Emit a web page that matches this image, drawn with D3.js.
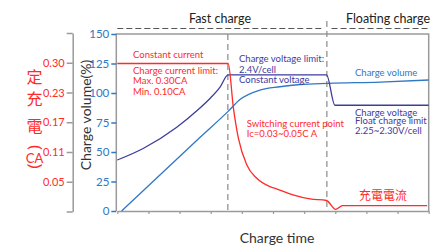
<!DOCTYPE html>
<html>
<head>
<meta charset="utf-8">
<script src="https://cdn.jsdelivr.net/npm/d3@7"></script>
<style>
  body { margin: 0; background: #fff; }
  svg { display: block; font-family: Lato, "Noto Sans", "Noto Sans CJK TC", sans-serif; }
</style>
</head>
<body>
<svg id="chart" width="439" height="249"></svg>
<script>
// time axis runs 0..10 (one unit per tick), volume axis 0..150 (%)
var volumeTicks = [0, 25, 50, 75, 100, 125, 150];
var currentTicks = ["", "0.05", "0.11", "0.17", "0.23", "0.30", ""];
var phaseBreaks = [3.55, 6.73];

// charge current (drawn in volume-axis units)
var currentT = [0, 3.56, 3.73, 3.89, 4.16, 4.48, 4.90, 5.13, 5.64, 6.19, 6.72, 7.01, 7.23, 9.95];
var currentV = [125, 125, 87, 61.5, 39, 27.7, 20.6, 18.6, 13.6, 10.2, 8.9, 1.4, 4.5, 4.5];

// charge voltage
var voltageT = [0, 0.83, 1.91, 2.6, 3.0, 3.3, 3.56, 6.72, 6.99, 10];
var voltageV = [43.2, 53, 71, 86, 96, 105, 115.3, 115.3, 89.6, 89.6];

// charge volume
var volumeT = [0.14, 2.66, 3.55, 3.94, 4.58, 5.22, 5.87, 6.77, 8.44, 10];
var volumeV = [0, 62.5, 84.2, 94.5, 102.5, 105.3, 107.2, 108.2, 109.3, 111];

var RED = "#ff2a2a", BLUE = "#2f78c4", NAVY = "#3d3d9e", GRAY = "#9a9a9a";

var svg = d3.select("#chart");
var x = d3.scaleLinear().domain([0, 10]).range([117.3, 428.7]);
var y = d3.scaleLinear().domain([0, 150]).range([211, 34]);
var yc = d3.scaleLinear().domain([0, 6]).range([211.5, 33]);

function zip(ts, vs) {
  return ts.map(function (t, i) { return [t, vs[i]]; });
}

// plot frame
svg.append("path")
  .attr("d", "M" + (x(0) - 1) + "," + y(0) + "V" + y(150) + "H" + x(10) + "V" + y(0))
  .attr("fill", "none").attr("stroke", GRAY).attr("stroke-width", 1.5);

// bottom axis
var gx = svg.append("g")
  .attr("transform", "translate(0," + y(0) + ")")
  .call(d3.axisBottom(x).ticks(10).tickSizeInner(3).tickSizeOuter(0).tickFormat(""));
gx.select(".domain").attr("stroke", GRAY).attr("stroke-width", 1.5);
gx.selectAll(".tick line").attr("stroke", GRAY).attr("stroke-width", 1.2);

// volume axis
var gy = svg.append("g")
  .attr("transform", "translate(" + (x(0) - 1) + ",0)")
  .call(d3.axisLeft(y).tickValues(volumeTicks).tickSizeInner(5).tickSizeOuter(0).tickPadding(2));
gy.select(".domain").remove();
gy.selectAll(".tick line").attr("stroke", BLUE).attr("stroke-width", 1.5);
gy.selectAll(".tick text").attr("fill", BLUE).attr("font-size", 11.5).attr("font-family", "Lato");

// current axis (left)
var gc = svg.append("g")
  .attr("transform", "translate(72.7,0)")
  .call(d3.axisLeft(yc).ticks(6).tickSizeInner(6).tickSizeOuter(0).tickPadding(2)
    .tickFormat(function (d) { return currentTicks[d]; }));
gc.select(".domain").attr("stroke", GRAY).attr("stroke-width", 1.5);
gc.selectAll(".tick line").attr("stroke", GRAY).attr("stroke-width", 1.5);
gc.selectAll(".tick text").attr("fill", RED).attr("font-size", 11).attr("font-family", "Lato");

// phase separators
svg.selectAll(".sep")
  .data(phaseBreaks)
  .enter().append("line")
  .attr("x1", function (d) { return x(d); })
  .attr("x2", function (d) { return x(d); })
  .attr("y1", function (d, i) { return i == 1 ? 21 : y(150); })
  .attr("y2", y(0))
  .attr("stroke", "#8a8a8a").attr("stroke-width", 1.2).attr("stroke-dasharray", "6,4");

// header dashes
svg.append("line").attr("x1", x(0)).attr("x2", x(6.6)).attr("y1", 28.5).attr("y2", 28.5)
  .attr("stroke", "#555").attr("stroke-width", 1.2).attr("stroke-dasharray", "6,3");
svg.append("line").attr("x1", x(6.88)).attr("x2", x(10)).attr("y1", 28.5).attr("y2", 28.5)
  .attr("stroke", "#555").attr("stroke-width", 1.2).attr("stroke-dasharray", "6,3");

svg.append("text").attr("x", 220).attr("y", 22.5).attr("text-anchor", "middle")
  .attr("font-size", 12.5).attr("fill", "#222").text("Fast charge");
svg.append("text").attr("x", 388).attr("y", 22.5).attr("text-anchor", "middle")
  .attr("font-size", 12.5).attr("fill", "#222").text("Floating charge");

// series
var line = d3.line()
  .x(function (d) { return x(d[0]); })
  .y(function (d) { return y(d[1]); })
  .curve(d3.curveMonotoneX);

svg.append("path").datum(zip(volumeT, volumeV))
  .attr("d", line).attr("fill", "none").attr("stroke", BLUE).attr("stroke-width", 1.3);
svg.append("path").datum(zip(voltageT, voltageV))
  .attr("d", line).attr("fill", "none").attr("stroke", NAVY).attr("stroke-width", 1.3);
svg.append("path").datum(zip(currentT, currentV))
  .attr("d", line).attr("fill", "none").attr("stroke", RED).attr("stroke-width", 1.3);

// annotations
function note(px, py, color, size, lines, gap) {
  var t = svg.append("text").attr("x", px).attr("y", py)
    .attr("fill", color).attr("font-size", size);
  lines.forEach(function (s, i) {
    t.append("tspan").attr("x", px).attr("y", py + i * gap).text(s);
  });
}
note(133, 58.3, RED, 9.5, ["Constant current"], 0);
note(133, 73.5, RED, 9.5, ["Charge current limit:", "Max. 0.30CA", "Min. 0.10CA"], 10.8);
note(239, 61.7, NAVY, 9.5, ["Charge voltage limit:", "2.4V/cell", "Constant voltage"], 10.8);
note(355, 76, BLUE, 9.5, ["Charge volume"], 0);
note(355, 116, NAVY, 9.5, ["Charge voltage", "Float charge limit"], 7.5);
note(355, 134, NAVY, 9.5, ["2.25~2.30V/cell"], 0);
note(246.7, 127.3, RED, 9.5, ["Switching current point", "Ic=0.03~0.05C A"], 10);
note(359, 199.5, RED, 12, ["充電電流"], 0);

// axis titles
svg.append("text").attr("x", 277).attr("y", 243).attr("text-anchor", "middle")
  .attr("font-size", 14).attr("fill", "#333").text("Charge time");
svg.append("text")
  .attr("transform", "translate(91,115) rotate(-90)")
  .attr("text-anchor", "middle").attr("font-size", 14).attr("fill", "#333")
  .text("Charge volume(%)");

// vertical red title
var vt = ["定", "充", "電"];
svg.selectAll(".vt").data(vt).enter().append("text")
  .attr("x", 34.5).attr("y", function (d, i) { return [83, 104.5, 132][i]; })
  .attr("text-anchor", "middle").attr("font-size", 16).attr("fill", RED)
  .attr("font-family", "Noto Sans CJK TC")
  .text(function (d) { return d; });
svg.append("text").attr("x", 34.5).attr("y", 163).attr("text-anchor", "middle")
  .attr("font-size", 13).attr("fill", RED).text("CA");
// parentheses turned on their side above and below
svg.append("text").attr("transform", "translate(29.5,145) rotate(90)")
  .attr("font-size", 17).attr("fill", RED).attr("font-family", "Noto Sans").text("(");
svg.append("text").attr("transform", "translate(29.5,163.5) rotate(90)")
  .attr("font-size", 17).attr("fill", RED).attr("font-family", "Noto Sans").text(")");
</script>
</body>
</html>
